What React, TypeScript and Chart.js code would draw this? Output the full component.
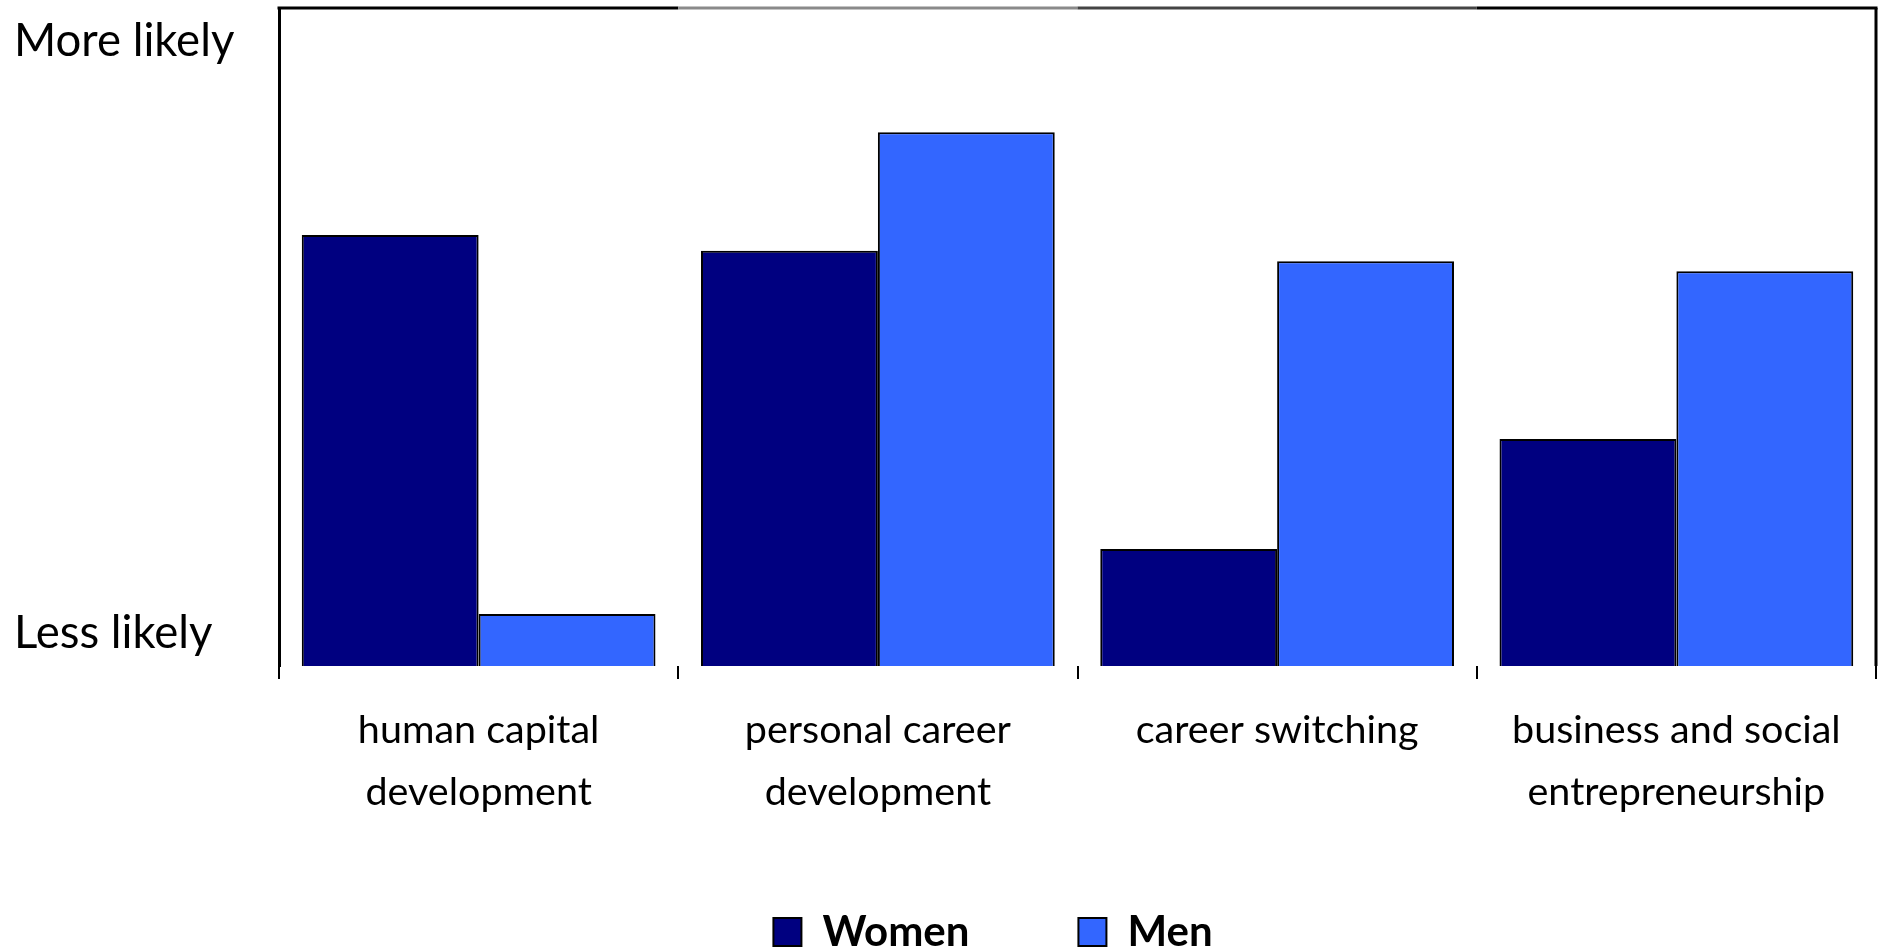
import React, { useEffect, useRef } from "react";
import { Chart, registerables } from "chart.js";

Chart.register(...registerables);

const categories: string[][] = [
  ["human capital", "development"],
  ["personal career", "development"],
  ["career switching"],
  ["business and social", "entrepreneurship"],
];
const womenValues = [65.5, 63.1, 17.8, 34.5];
const menValues = [7.9, 81.1, 61.5, 60.0];
const yTickValues = [5, 95];
const yTickLabels = ["Less likely", "More likely"];
const seriesNames = ["Women", "Men"];

const FONT = "Lato, 'Noto Sans', sans-serif";
const topBorderColors = ["#000000", "#8a8a8a", "#444444", "#000000"];

const framePlugin = {
  id: "frame",
  afterDraw(chart: any) {
    const { ctx, chartArea } = chart;
    ctx.save();
    ctx.lineWidth = 3;
    const n = categories.length;
    const step = (chartArea.right - chartArea.left) / n;
    for (let i = 0; i < n; i++) {
      ctx.strokeStyle = topBorderColors[i % topBorderColors.length];
      ctx.beginPath();
      ctx.moveTo(chartArea.left + step * i - (i === 0 ? 1.5 : 0), chartArea.top);
      ctx.lineTo(chartArea.left + step * (i + 1) + (i === n - 1 ? 1.5 : 0), chartArea.top);
      ctx.stroke();
    }
    ctx.strokeStyle = "#000";
    ctx.beginPath();
    ctx.moveTo(chartArea.right, chartArea.top);
    ctx.lineTo(chartArea.right, chartArea.bottom);
    ctx.stroke();
    ctx.restore();
  },
};

const layoutTweak = {
  id: "layoutTweak",
  afterLayout(chart: any) {
    const lg = chart.legend;
    if (lg) {
      lg.left += 96;
      lg.top += 12;
      lg.bottom += 12;
    }
    const xs = chart.scales.x;
    if (xs) xs.bottom = chart.height;
  },
};

export default function App() {
  const ref = useRef<HTMLCanvasElement | null>(null);
  useEffect(() => {
    if (!ref.current) return;
    const chart = new Chart(ref.current, {
      type: "bar",
      data: {
        labels: categories,
        datasets: [
          {
            label: seriesNames[0],
            data: womenValues,
            backgroundColor: "#000080",
            borderColor: "#000000",
            borderWidth: 2,
            categoryPercentage: 0.886,
            barPercentage: 1.0,
          },
          {
            label: seriesNames[1],
            data: menValues,
            backgroundColor: "#3366FF",
            borderColor: "#000000",
            borderWidth: 2,
            categoryPercentage: 0.886,
            barPercentage: 1.0,
          },
        ],
      },
      options: {
        animation: false,
        responsive: true,
        maintainAspectRatio: false,
        layout: { padding: { left: 14, right: 19, top: 8, bottom: 0 } },
        plugins: {
          tooltip: { enabled: false },
          legend: {
            position: "bottom",
            labels: {
              color: "#000",
              boxWidth: 28,
              boxHeight: 28,
              padding: 109,
              font: { family: FONT, size: 42, weight: "bold" },
            },
          },
        },
        scales: {
          x: {
            grid: {
              display: true,
              drawOnChartArea: false,
              drawTicks: true,
              tickLength: 13,
              color: "#000",
              lineWidth: 2,
              offset: true,
            },
            border: { display: false },
            ticks: {
              color: "#000",
              padding: 21,
              maxRotation: 0,
              autoSkip: false,
              font: { family: FONT, size: 39.5, lineHeight: 1.55 },
            },
            afterFit: (s: any) => {
              s.height = 124;
            },
          },
          y: {
            min: 0,
            max: 100,
            grid: { display: false, drawTicks: false },
            border: { display: true, color: "#000", width: 3 },
            afterBuildTicks: (axis: any) => {
              axis.ticks = yTickValues.map((v) => ({ value: v }));
            },
            ticks: {
              color: "#000",
              crossAlign: "far",
              font: { family: FONT, size: 45.5 },
              callback: (value: any) => {
                const i = yTickValues.indexOf(Number(value));
                return i >= 0 ? yTickLabels[i] : "";
              },
            },
            afterFit: (s: any) => {
              s.width = 265;
              s.paddingTop = 0;
              s.paddingBottom = 0;
            },
          },
        },
      },
      plugins: [framePlugin, layoutTweak],
    });
    return () => chart.destroy();
  }, []);
  return (
    <div style={{ position: "fixed", left: 0, top: 0, width: 1895, height: 951, background: "#fff" }}>
      <canvas ref={ref} />
    </div>
  );
}
